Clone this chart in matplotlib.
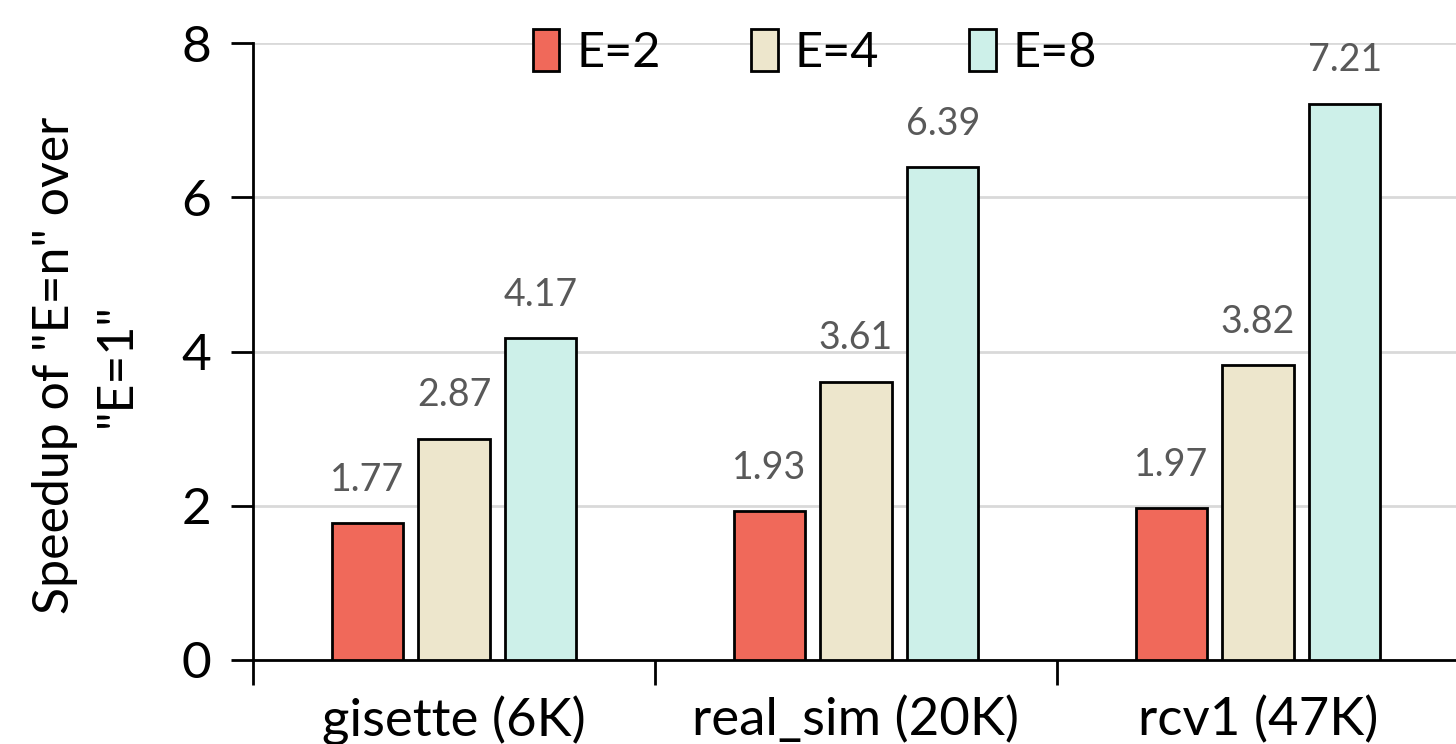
import matplotlib
matplotlib.use("Agg")
import matplotlib.pyplot as plt
import numpy as np

categories = ["gisette (6K)", "real_sim (20K)", "rcv1 (47K)"]
series_names = ["E=2", "E=4", "E=8"]
e2 = [1.77, 1.93, 1.97]
e4 = [2.87, 3.61, 3.82]
e8 = [4.17, 6.39, 7.21]
yticks = [0, 2, 4, 6, 8]
colors = ["#F0695A", "#EDE6CC", "#CDF0E9"]

plt.rcParams['font.family'] = ['Lato', 'DejaVu Sans']

fig = plt.figure(figsize=(14.56, 7.44), dpi=100)
ax = fig.add_axes([253/1456, 84/744, 1206/1456, 617/744])

x = np.arange(len(categories))
w = 0.177
step = 0.216
for i, (vals, name, c) in enumerate(zip([e2, e4, e8], series_names, colors)):
    pos = x + (i - 1) * step
    ax.bar(pos, vals, width=w, color=c, edgecolor="black", linewidth=2, label=name, zorder=3)
    for p, v in zip(pos, vals):
        ax.text(p, v + 0.33, f"{v:.2f}", ha="center", va="bottom", fontsize=27, color="#595959")

ax.set_xlim(-0.5, 2.5)
ax.set_ylim(0, 8)
ax.set_yticks(yticks)
ax.set_yticklabels([str(t) for t in yticks], fontsize=37)
ax.set_xticks(x)
ax.set_xticklabels(categories, fontsize=38)
ax.tick_params(axis='x', which='major', length=0, pad=26)
ax.set_xticks([-0.5, 0.5, 1.5, 2.5], minor=True)
ax.tick_params(axis='x', which='minor', length=18, width=2, direction='out')
ax.tick_params(axis='y', length=16, width=2, direction='out', pad=14)
ax.yaxis.grid(True, color="#D9D9D9", linewidth=2, zorder=0)
ax.set_axisbelow(True)
for s in ["top", "right"]:
    ax.spines[s].set_visible(False)
ax.spines["left"].set_linewidth(2)
ax.spines["bottom"].set_linewidth(2)

ax.set_ylabel('Speedup of "E=n" over\n"E=1"', fontsize=36, linespacing=1.42)
ax.yaxis.set_label_coords(-0.094, 0.478)

leg = ax.legend(loc="center", ncol=3, frameon=False,
                fontsize=35, handlelength=0.55, handleheight=0.95, handletextpad=0.35,
                columnspacing=1.85, borderaxespad=0,
                bbox_to_anchor=(815/1456, 1 - 52/744), bbox_transform=fig.transFigure)
for h in leg.legend_handles:
    h.set_linewidth(2)

fig.savefig("out.png", dpi=100)
